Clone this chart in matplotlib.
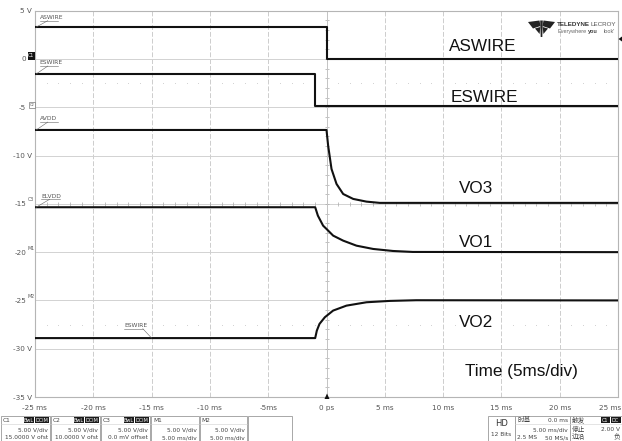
import numpy as np
import matplotlib
matplotlib.use("Agg")
import matplotlib.pyplot as plt
import matplotlib.transforms as mtransforms
from matplotlib.patches import Rectangle, Polygon

# ---------------- data (screen volts vs time in ms) ----------------
aswire_t = [-25, 0.0, 0.0, 25]
aswire_v = [3.3, 3.3, 0.0, 0.0]

eswire_t = [-25, -0.97, -0.97, 25]
eswire_v = [-1.55, -1.55, -4.9, -4.9]

vo3_t = [-25, 0.0, 0.14, 0.43, 0.86, 1.43, 2.29, 3.43, 4.57, 25]
vo3_v = [-7.35, -7.35, -8.97, -11.39, -12.94, -13.98, -14.49, -14.77, -14.9, -14.9]

vo1_t = [-25, -0.97, -0.74, -0.29, 0.0, 0.57, 1.43, 2.57, 4.0, 5.7, 7.4, 25]
vo1_v = [-15.35, -15.35, -16.22, -17.26, -17.6, -18.29, -18.81, -19.33, -19.67, -19.88, -19.98, -20.0]

vo2_t = [-25, -0.97, -0.83, -0.6, -0.14, 0.57, 1.71, 3.43, 5.43, 7.7, 25]
vo2_v = [-28.9, -28.9, -28.13, -27.43, -26.74, -26.05, -25.54, -25.19, -25.05, -24.98, -25.0]

x_ticks = [-25, -20, -15, -10, -5, 0, 5, 10, 15, 20, 25]
x_labels = ["-25 ms", "-20 ms", "-15 ms", "-10 ms", "-5ms", "0 ps", "5 ms", "10 ms", "15 ms", "20 ms", "25 ms"]
y_ticks = [-35, -30, -25, -20, -15, -10, -5, 0, 5]
y_labels = ["-35 V", "-30 V", "-25", "-20", "-15", "-10 V", "-5", "0", "5 V"]

big_labels = ["ASWIRE", "ESWIRE", "VO3", "VO1", "VO2"]

# ---------------- figure ----------------
W, H = 622, 441
fig = plt.figure(figsize=(W / 100, H / 100), dpi=100)
fig.patch.set_facecolor("white")
L, R, T, B = 35, 618, 10.7, 397
ax = fig.add_axes([L / W, 1 - B / H, (R - L) / W, (B - T) / H])
ax.set_xlim(-25, 25)
ax.set_ylim(-35, 5)
for s in ax.spines.values():
    s.set_color("#b5b5b5")
    s.set_linewidth(0.8)

# grid
for xv in range(-20, 25, 5):
    ax.axvline(xv, color="#cdcdcd", lw=0.7, ls=(0, (5, 2)), zorder=1)
for yv in range(-30, 5, 5):
    ax.axhline(yv, color="#d2d2d2", lw=0.7, zorder=1)
# faint dotted reference lines
dots_x = np.array([v for v in np.arange(-24, 25, 1.0) if v % 5 != 0])
for yv in (-2.5, -27.5):
    ax.plot(dots_x, np.full_like(dots_x, yv), ls="none", marker="s", ms=0.6,
            mew=0, color="#cfcfcf", zorder=1)
# center axes tick marks
cx = np.arange(-24, 25, 1.0)
ax.plot(cx, np.full_like(cx, -15.0), ls="none", marker="|", ms=3, mew=0.5,
        color="#a8a8a8", zorder=1)
cy = np.arange(-34, 5, 1.0)
ax.plot(np.zeros_like(cy), cy, ls="none", marker="_", ms=3, mew=0.5,
        color="#a8a8a8", zorder=1)
ax.axvline(0, color="#c4c4c4", lw=0.7, zorder=1)

# traces
tc = "#111111"
for tt, vv in [(aswire_t, aswire_v), (eswire_t, eswire_v), (vo3_t, vo3_v),
               (vo1_t, vo1_v), (vo2_t, vo2_v)]:
    ax.plot(tt, vv, color=tc, lw=1.5, zorder=3, solid_joinstyle="round")

ax.set_xticks(x_ticks, x_labels)
ax.set_yticks(y_ticks, y_labels)
ax.tick_params(axis="both", length=0, labelsize=5.2, colors="#555555")
ax.tick_params(axis="x", pad=6)
ax.tick_params(axis="y", pad=2)
xl = ax.get_xticklabels()
xl[-1].set_horizontalalignment("right")
xl[-1].set_transform(xl[-1].get_transform() + mtransforms.ScaledTranslation(3 / 100, 0, fig.dpi_scale_trans))
xl[0].set_horizontalalignment("left")
xl[0].set_transform(xl[0].get_transform() + mtransforms.ScaledTranslation(-13 / 100, 0, fig.dpi_scale_trans))
# labels partly covered by channel markers are set further left
for lab in ax.get_yticklabels():
    if lab.get_text() in ("0", "-5", "-15", "-20", "-25"):
        lab.set_transform(lab.get_transform() + mtransforms.ScaledTranslation(-6 / 100, 0, fig.dpi_scale_trans))

# small trace labels with leaders
small = dict(fontsize=4.3, color="#555555", family="DejaVu Sans")
def tag(x, y, txt, lx0, ly0):
    ax.text(x, y, txt, ha="left", va="bottom", zorder=4, **small)
    ax.plot([x, x + 1.6], [y - 0.08, y - 0.08], color="#666666", lw=0.4, zorder=4)
    ax.plot([lx0, x + 0.7], [ly0, y - 0.08], color="#666666", lw=0.4, zorder=4)

tag(-24.6, 4.05, "ASWIRE", -24.9, 3.3)
tag(-24.6, -0.65, "ESWIRE", -24.9, -1.55)
tag(-24.6, -6.45, "AVDD", -24.9, -7.35)
tag(-24.45, -14.45, "ELVDD", -24.9, -15.35)
ax.text(-17.35, -27.88, "ESWIRE", ha="left", va="bottom", zorder=4, **small)
ax.plot([-17.35, -15.75], [-27.93, -27.93], color="#666666", lw=0.4, zorder=4)
ax.plot([-15.75, -15.0], [-27.93, -28.9], color="#666666", lw=0.4, zorder=4)

# ---------------- overlay in pixel coordinates ----------------
ov = fig.add_axes([0, 0, 1, 1], zorder=5)
ov.set_xlim(0, W)
ov.set_ylim(H, 0)
ov.axis("off")
ov.patch.set_alpha(0)

big = dict(fontsize=12.3, family="Liberation Sans", color="#111111", ha="center", va="baseline")
ov.text(483, 51, big_labels[0], **big)
ov.text(484.5, 102, big_labels[1], **big)
ov.text(476, 193, big_labels[2], **big)
ov.text(476.5, 247, big_labels[3], **big)
ov.text(476, 327, big_labels[4], **big)
ov.text(521, 376, "Time (5ms/div)", **big)

# logo (stylised fan)
lg = "#222222"
ov.add_patch(Polygon([(528, 22), (539.5, 20.5), (540.5, 26), (533, 28.5)], closed=True, fc=lg, ec="none"))
ov.add_patch(Polygon([(555, 22), (543.5, 20.5), (542.5, 26), (550, 28.5)], closed=True, fc=lg, ec="none"))
ov.add_patch(Polygon([(540.2, 20.5), (542.8, 20.5), (542.3, 37), (540.7, 37)], closed=True, fc=lg, ec="none"))
ov.add_patch(Polygon([(535, 28.5), (540.3, 27), (539.6, 34)], closed=True, fc=lg, ec="none"))
ov.add_patch(Polygon([(548, 28.5), (542.7, 27), (543.4, 34)], closed=True, fc=lg, ec="none"))
ov.text(557, 26.3, "TELEDYNE", fontsize=4.5, family="Liberation Sans", weight="bold", color="#333333", va="baseline", ha="left")
ov.text(616, 26.3, "LECROY", fontsize=4.5, family="Liberation Sans", color="#555555", va="baseline", ha="right")
ov.text(557, 32.8, "Everywhere", fontsize=4.0, family="Liberation Sans", color="#666666", va="baseline", ha="left")
ov.text(592.5, 32.8, "you", fontsize=4.0, family="Liberation Sans", weight="bold", color="#444444", va="baseline", ha="center")
ov.text(615, 32.8, "look'", fontsize=4.0, family="Liberation Sans", color="#666666", va="baseline", ha="right")
ov.add_patch(Polygon([(618.5, 39), (622, 36.5), (622, 41.5)], closed=True, fc="#111111", ec="none"))
# trigger position marker
ov.add_patch(Polygon([(324.5, 399), (329.5, 399), (327, 393.5)], closed=True, fc="#111111", ec="none"))

# channel markers on left axis
ov.add_patch(Rectangle((27.5, 52), 7.5, 7.5, fc="#111111", ec="none"))
ov.text(31.2, 55.8, "C1", fontsize=3.4, color="white", ha="center", va="center", family="DejaVu Sans")
ov.add_patch(Rectangle((29, 102), 6, 6, fc="white", ec="#777777", lw=0.5))
ov.text(32, 105, "C2", fontsize=2.6, color="#555555", ha="center", va="center", family="DejaVu Sans")
ov.text(31, 199.5, "C3", fontsize=3.4, color="#555555", ha="center", va="center", family="DejaVu Sans")
ov.text(31, 248, "M1", fontsize=3.4, color="#555555", ha="center", va="center", family="DejaVu Sans")
ov.text(31, 297, "M2", fontsize=3.4, color="#555555", ha="center", va="center", family="DejaVu Sans")

# ---------------- bottom info panels ----------------
pf = ["DejaVu Sans", "Noto Sans CJK SC"]
cjk = ["Noto Sans CJK SC", "DejaVu Sans"]
pc = "#444444"
fs = 4.2
def box(x0, x1):
    ov.add_patch(Rectangle((x0, 416), x1 - x0, 30, fc="white", ec="#9a9a9a", lw=0.6))
    ov.plot([x0, x1], [424, 424], color="#cfcfcf", lw=0.4)

def badge(x0, x1, txt):
    ov.add_patch(Rectangle((x0, 416.8), x1 - x0, 6.6, fc="#1a1a1a", ec="none"))
    ov.text((x0 + x1) / 2, 420.2, txt, fontsize=3.5, color="white", ha="center", va="center", family=pf)

chan = [("C1", 1, 50, "15.0000 V ofst"), ("C2", 51, 100, "10.0000 V ofst"),
        ("C3", 101, 150, "0.0 mV offset")]
for name, x0, x1, off in chan:
    box(x0, x1)
    ov.text(x0 + 2, 420.3, name, fontsize=fs, color=pc, va="center", family=pf)
    badge(x1 - 26, x1 - 16, "BwL")
    badge(x1 - 15.5, x1 - 1, "DCIM")
    ov.text(x1 - 2, 429.5, "5.00 V/div", fontsize=fs, color=pc, ha="right", va="center", family=pf)
    ov.text(x1 - 2, 437.5, off, fontsize=fs, color=pc, ha="right", va="center", family=pf)
for name, x0, x1 in [("M1", 151, 199), ("M2", 199.5, 247)]:
    box(x0, x1)
    ov.text(x0 + 2, 420.3, name, fontsize=fs, color=pc, va="center", family=pf)
    ov.text(x1 - 2, 429.5, "5.00 V/div", fontsize=fs, color=pc, ha="right", va="center", family=pf)
    ov.text(x1 - 2, 437.5, "5.00 ms/div", fontsize=fs, color=pc, ha="right", va="center", family=pf)
ov.add_patch(Rectangle((247.5, 416), 44.5, 30, fc="white", ec="#9a9a9a", lw=0.6))

# HD box
ov.add_patch(Rectangle((488, 416), 27, 30, fc="white", ec="#9a9a9a", lw=0.6))
ov.text(501.5, 423, "HD", fontsize=6, color="#333333", ha="center", va="center", family=pf)
ov.text(501.5, 435, "12 Bits", fontsize=fs, color=pc, ha="center", va="center", family=pf)
# timebase box
box(515, 570)
ov.text(517, 420.3, "时基", fontsize=fs + 0.6, color=pc, va="center", family=cjk)
ov.text(568, 420.3, "0.0 ms", fontsize=fs, color=pc, ha="right", va="center", family=pf)
ov.text(568, 429.5, "5.00 ms/div", fontsize=fs, color=pc, ha="right", va="center", family=pf)
ov.text(517, 437.5, "2.5 MS", fontsize=fs, color=pc, ha="left", va="center", family=pf)
ov.text(568, 437.5, "50 MS/s", fontsize=fs, color=pc, ha="right", va="center", family=pf)
# trigger box
box(570, 622)
ov.text(572, 420.3, "触发", fontsize=fs + 0.6, color=pc, va="center", family=cjk)
badge(601, 610, "C1")
badge(610.5, 620.5, "DC")
ov.text(572, 429.5, "停止", fontsize=fs + 0.6, color=pc, va="center", family=cjk)
ov.text(620, 429.5, "2.00 V", fontsize=fs, color=pc, ha="right", va="center", family=pf)
ov.text(572, 437.5, "边沿", fontsize=fs + 0.6, color=pc, va="center", family=cjk)
ov.text(620, 437.5, "负", fontsize=fs + 0.6, color=pc, ha="right", va="center", family=cjk)

fig.savefig("out.png", dpi=100, facecolor="white")
